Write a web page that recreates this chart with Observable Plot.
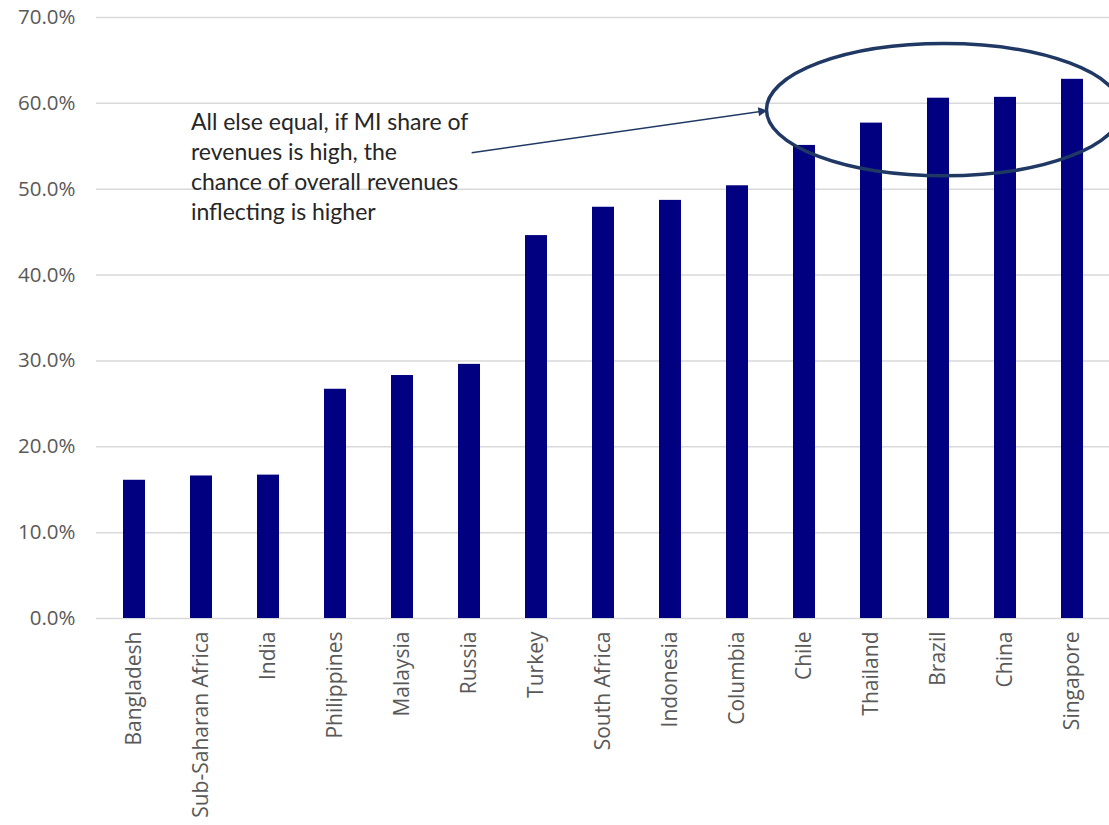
<!DOCTYPE html>
<html><head><meta charset="utf-8">
<script src="https://cdn.jsdelivr.net/npm/d3@7"></script>
<script src="https://cdn.jsdelivr.net/npm/@observablehq/plot@0.6"></script>
<style>
body{margin:0;background:#fff;}
#wrap{position:relative;width:1109px;height:825px;overflow:hidden;background:#fff;}
#edge{position:absolute;left:0;top:376px;width:4px;height:41px;background:#1e2742;}
</style></head><body><div id="wrap"><div id="edge"></div></div>
<script>
const countries = ["Bangladesh","Sub-Saharan Africa","India","Philippines","Malaysia","Russia","Turkey","South Africa","Indonesia","Columbia","Chile","Thailand","Brazil","China","Singapore"];
const shares = [16.1,16.6,16.7,26.7,28.3,29.6,44.6,47.9,48.7,50.4,55.1,57.7,60.6,60.7,62.8];
const yTicks = [0,10,20,30,40,50,60,70];
const noteLines = ["All else equal, if MI share of","revenues is high, the","chance of overall revenues","inflecting is higher"];

const rows = countries.map((c,i)=>({country:c, share:shares[i]}));

const chart = Plot.plot({
  width:1109, height:825,
  marginLeft:96, marginRight:0, marginTop:17, marginBottom:207,
  style:{fontFamily:"'Open Sans', sans-serif", background:"#fff", color:"#595959"},
  x:{domain:countries, paddingInner:0.674, paddingOuter:0.337, label:null},
  y:{domain:[0,70], label:null},
  marks:[
    Plot.ruleY(yTicks, {stroke:"#d9d9d9", strokeWidth:1.5}),
    Plot.barY(rows, {x:"country", y:"share", fill:"#000080"}),
    Plot.axisY({ticks:yTicks, tickFormat:d=>d.toFixed(1)+"%", tickSize:0, tickPadding:21, fontSize:20.5, fill:"#595959", label:null}),
    Plot.axisX({tickSize:0, tickPadding:13, tickRotate:-90, fontSize:21, fill:"#595959", label:null})
  ]
});
document.getElementById("wrap").appendChild(chart);
chart.style.position="absolute"; chart.style.left="0"; chart.style.top="0";

// annotation overlay, placed through the chart's own scales
const xs = chart.scale("x"), ys = chart.scale("y");
const step = xs.apply(countries[1]) - xs.apply(countries[0]);
const x0 = xs.apply(countries[0]) + xs.bandwidth/2;
const px = i => x0 + i*step;      // fractional band index -> pixels
const py = v => ys.apply(v);      // percent -> pixels

const noteAt = {i:0.85, v:56.86};
const arrowFrom = {i:5.04, v:54.2}, arrowTo = {i:9.44, v:59.1};
const ring = {i:12.09, v:59.2, ri:2.65, rv:7.7};

const svg = d3.select(chart);
const defs = svg.append("defs");
defs.append("marker").attr("id","ah").attr("viewBox","0 0 10 10").attr("refX",9).attr("refY",5)
  .attr("markerWidth",7).attr("markerHeight",6).attr("markerUnits","strokeWidth").attr("orient","auto")
  .append("path").attr("d","M0,0L10,5L0,10z").attr("fill","#1f3864");

const g = svg.append("g");
const t = g.append("text").attr("font-family","Lato, 'Open Sans', sans-serif").attr("font-size",23)
  .attr("fill","#262626").attr("text-anchor","start");
noteLines.forEach((s,k)=>{
  t.append("tspan").attr("x",px(noteAt.i)).attr("y",py(noteAt.v)+k*30).text(s);
});
g.append("line").attr("x1",px(arrowFrom.i)).attr("y1",py(arrowFrom.v)).attr("x2",px(arrowTo.i)).attr("y2",py(arrowTo.v))
  .attr("stroke","#1f3864").attr("stroke-width",1.5).attr("marker-end","url(#ah)");
g.append("ellipse").attr("cx",px(ring.i)).attr("cy",py(ring.v))
  .attr("rx",px(ring.i+ring.ri)-px(ring.i)).attr("ry",py(ring.v-ring.rv)-py(ring.v))
  .attr("fill","none").attr("stroke","#1f3864").attr("stroke-width",3.5);
</script>
</body></html>
